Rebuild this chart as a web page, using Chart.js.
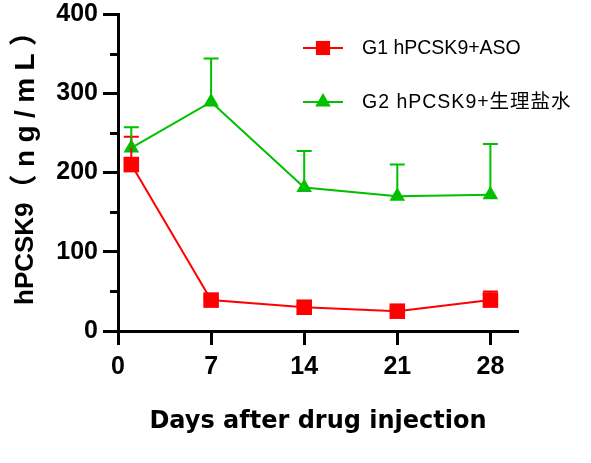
<!DOCTYPE html>
<html>
<head>
<meta charset="utf-8">
<script src="https://cdn.jsdelivr.net/npm/chart.js@4"></script>
<style>
  html, body { margin: 0; padding: 0; background: #fff; }
  #wrap { width: 591px; height: 463px; }
</style>
</head>
<body>
<div id="wrap"><canvas id="pcsk9Chart" width="591" height="463"></canvas></div>
<script>
// values
var days = [1, 7, 14, 21, 28];
var g1Mean = [210, 39, 30, 25, 39];
var g1Sd = [35, 3, 3, 3, 11];
var g2Mean = [231, 289, 181, 170, 172];
var g2Sd = [26, 55, 46, 40, 64];
var xTickValues = [0, 7, 14, 21, 28];
var yTickValues = [0, 50, 100, 150, 200, 250, 300, 350, 400];
var seriesNames = ['G1 hPCSK9+ASO', 'G2 hPCSK9+生理盐水'];
var xTitle = 'Days after drug injection';
var yTitleName = 'hPCSK9';
var yTitleUnit = '（ng/mL）';

var RED = '#ff0000';
var GREEN = '#00c000';
var tickFont = { family: 'Liberation Sans', size: 25, weight: 'bold' };

function toPoints(means) {
  return days.map(function (d, i) { return { x: d, y: means[i] }; });
}

var ctx = document.getElementById('pcsk9Chart').getContext('2d');

var data = {
  datasets: [
    {
      label: seriesNames[0],
      data: toPoints(g1Mean),
      sd: g1Sd,
      borderColor: RED,
      backgroundColor: RED,
      borderWidth: 2,
      pointStyle: 'rect',
      pointRadius: 11,
      pointBorderWidth: 0,
      tension: 0
    },
    {
      label: seriesNames[1],
      data: toPoints(g2Mean),
      sd: g2Sd,
      borderColor: GREEN,
      backgroundColor: GREEN,
      borderWidth: 2,
      pointStyle: 'triangle',
      pointRadius: 9,
      pointBorderWidth: 0,
      tension: 0
    }
  ]
};

// upper error whiskers, drawn through the scales
var errorBars = {
  id: 'errorBars',
  afterDatasetsDraw: function (chart) {
    var c = chart.ctx;
    var xs = chart.scales.x, ys = chart.scales.y;
    chart.data.datasets.forEach(function (ds) {
      c.save();
      c.strokeStyle = ds.borderColor;
      c.lineWidth = 2;
      ds.data.forEach(function (p, i) {
        var px = xs.getPixelForValue(p.x);
        var py = ys.getPixelForValue(p.y);
        var top = ys.getPixelForValue(p.y + ds.sd[i]);
        c.beginPath();
        c.moveTo(px, py);
        c.lineTo(px, top);
        c.moveTo(px - 7.5, top);
        c.lineTo(px + 7.5, top);
        c.stroke();
      });
      c.restore();
    });
  }
};

// minor y ticks (every 50) are shorter than the labelled ones
var minorTicks = {
  id: 'minorTicks',
  afterDraw: function (chart) {
    var c = chart.ctx;
    var ys = chart.scales.y;
    c.save();
    c.strokeStyle = '#000';
    c.lineWidth = 3;
    yTickValues.forEach(function (v) {
      if (v % 100 === 0) return;
      var py = Math.round(ys.getPixelForValue(v)) + 0.5;
      c.beginPath();
      c.moveTo(chart.chartArea.left - 8, py);
      c.lineTo(chart.chartArea.left, py);
      c.stroke();
    });
    c.restore();
  }
};

var titlesAndLegend = {
  id: 'titlesAndLegend',
  afterDraw: function (chart) {
    var c = chart.ctx;
    c.save();
    c.fillStyle = '#000';
    c.textAlign = 'center';
    c.textBaseline = 'middle';
    c.font = 'bold 24px "DejaVu Sans"';
    c.fillText(xTitle, 318, 422);

    // y title: name is tight, the unit part is a bit larger and spread out
    c.save();
    c.translate(26, 305);
    c.rotate(-Math.PI / 2);
    c.textAlign = 'left';
    c.font = 'bold 26px "Liberation Sans", "Noto Sans CJK SC"';
    c.fillText(yTitleName, 0, 0);
    var w1 = c.measureText(yTitleName).width;
    c.font = 'bold 28px "Liberation Sans", "Noto Sans CJK SC"';
    var w2 = c.measureText(yTitleUnit).width;
    var n2 = Array.from(yTitleUnit).length;
    c.letterSpacing = Math.max(0, (287 - w1 - w2) / (n2 - 1)).toFixed(2) + 'px';
    c.fillText(yTitleUnit, w1, 0);
    c.restore();

    // legend
    var rows = [48, 102];
    chart.data.datasets.forEach(function (ds, i) {
      var y = rows[i];
      c.strokeStyle = ds.borderColor;
      c.lineWidth = 2;
      c.beginPath();
      c.moveTo(303, y);
      c.lineTo(343, y);
      c.stroke();
      c.fillStyle = ds.backgroundColor;
      Chart.helpers.drawPoint(c, {
        pointStyle: ds.pointStyle,
        radius: i === 0 ? 10 : 9,
        borderWidth: 0
      }, 323, y);
      c.fillStyle = '#000';
      c.textAlign = 'left';
      c.font = '19.5px "Liberation Sans", "Noto Sans CJK SC"';
      c.letterSpacing = i === 1 ? '1px' : '0px';
      c.fillText(ds.label, 362, y + 1);
    });
    c.restore();
  }
};

var options = {
  responsive: false,
  animation: false,
  layout: { padding: { left: 0, top: 14, right: 74, bottom: 0 } },
  plugins: {
    legend: { display: false },
    tooltip: { enabled: false }
  },
  scales: {
    x: {
      type: 'linear',
      min: 0,
      max: 30,
      afterBuildTicks: function (s) {
        s.ticks = xTickValues.map(function (v) { return { value: v }; });
      },
      afterFit: function (s) {
        s.height = 132;
        s.paddingLeft = 0;
        s.paddingRight = 0;
      },
      ticks: { color: '#000', font: tickFont, padding: 7, maxRotation: 0 },
      grid: { drawOnChartArea: false, tickLength: 14, color: '#000', lineWidth: 3 },
      border: { display: true, color: '#000', width: 3 }
    },
    y: {
      min: 0,
      max: 400,
      afterBuildTicks: function (s) {
        s.ticks = yTickValues.map(function (v) { return { value: v }; });
      },
      afterFit: function (s) {
        s.width = 118;
        s.paddingTop = 0;
        s.paddingBottom = 0;
      },
      ticks: {
        color: '#000',
        font: tickFont,
        padding: 5,
        callback: function (v) { return v % 100 === 0 ? v : ''; }
      },
      grid: {
        drawOnChartArea: false,
        tickLength: 15,
        lineWidth: 3,
        color: function (c) { return c.tick && c.tick.value % 100 === 0 ? '#000' : 'rgba(0,0,0,0)'; }
      },
      border: { display: true, color: '#000', width: 3 }
    }
  }
};

var pcsk9Chart = new Chart(ctx, {
  type: 'line',
  data: data,
  options: options,
  plugins: [errorBars, minorTicks, titlesAndLegend]
});
</script>
</body>
</html>
